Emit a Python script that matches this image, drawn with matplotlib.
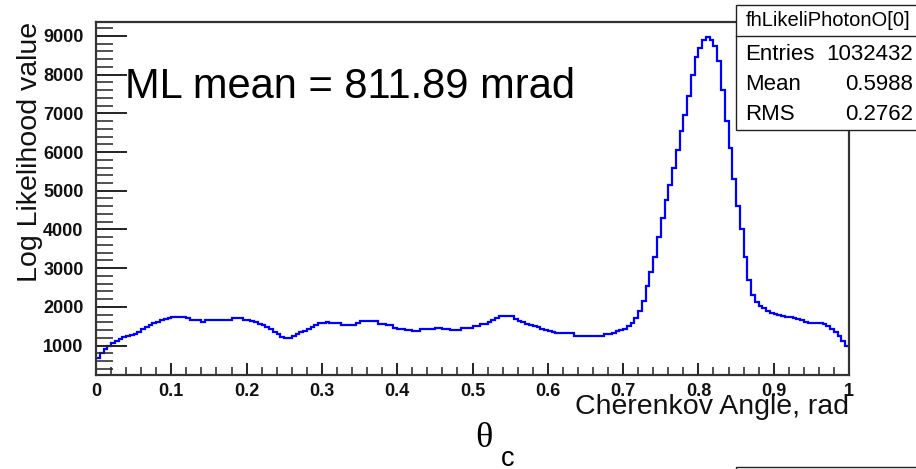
import numpy as np
import matplotlib
matplotlib.use("Agg")
import matplotlib.pyplot as plt
from matplotlib.patches import Rectangle
from matplotlib.lines import Line2D
from matplotlib.ticker import MultipleLocator

plt.rcParams['font.family'] = ['Liberation Sans', 'DejaVu Sans']

# 200 bins over [0, 1] rad
bin_edges = np.linspace(0.0, 1.0, 201)
likelihood = [
    690, 800, 900, 990, 1060, 1130, 1170, 1210, 1250, 1280,
    1310, 1350, 1420, 1480, 1540, 1580, 1610, 1650, 1690, 1720,
    1750, 1750, 1750, 1750, 1710, 1670, 1670, 1670, 1620, 1670,
    1670, 1670, 1670, 1670, 1670, 1670, 1710, 1710, 1710, 1670,
    1670, 1630, 1600, 1560, 1520, 1470, 1420, 1350, 1290, 1230,
    1200, 1200, 1250, 1290, 1340, 1380, 1430, 1480, 1540, 1590,
    1590, 1620, 1590, 1590, 1590, 1540, 1540, 1540, 1540, 1590,
    1630, 1630, 1630, 1630, 1630, 1570, 1570, 1520, 1520, 1465,
    1430, 1430, 1390, 1390, 1370, 1370, 1430, 1430, 1430, 1430,
    1460, 1460, 1430, 1430, 1415, 1415, 1415, 1460, 1460, 1460,
    1500, 1500, 1570, 1570, 1610, 1655, 1700, 1760, 1760, 1760,
    1760, 1690, 1640, 1600, 1560, 1540, 1510, 1480, 1440, 1400,
    1370, 1340, 1330, 1330, 1330, 1330, 1330, 1260, 1260, 1260,
    1260, 1260, 1260, 1260, 1260, 1300, 1300, 1330, 1370, 1400,
    1440, 1500, 1580, 1700, 1900, 2150, 2550, 2900, 3300, 3800,
    4300, 4750, 5150, 5600, 6050, 6550, 6950, 7450, 8000, 8450,
    8700, 8900, 8970, 8900, 8750, 8350, 7600, 6800, 6100, 5300,
    4600, 4000, 3300, 2700, 2300, 2120, 2030, 1960, 1900, 1850,
    1820, 1790, 1760, 1740, 1740, 1720, 1690, 1650, 1610, 1590,
    1580, 1580, 1580, 1560, 1510, 1440, 1360, 1260, 1130, 980,
]

hist_name = "fhLikeliPhotonO[0]"
stats_labels = ["Entries", "Mean", "RMS"]
stats_values = ["1032432", "0.5988", "0.2762"]
ml_mean_mrad = 811.89

W, H = 916, 469
fig = plt.figure(figsize=(W / 100, H / 100), dpi=100)
ax = fig.add_axes([96 / W, 1 - 375 / H, (849 - 96) / W, (375 - 22) / H])

ax.stairs(likelihood, bin_edges, baseline=None, color='#0000ff', lw=1.6)

ax.set_xlim(0, 1)
ax.set_ylim(240, 9360)
ax.xaxis.set_minor_locator(MultipleLocator(0.02))
ax.yaxis.set_major_locator(MultipleLocator(1000))
ax.yaxis.set_minor_locator(MultipleLocator(200))
ax.set_xticks(np.arange(0, 1.01, 0.1))
ax.set_xticklabels(["0", "0.1", "0.2", "0.3", "0.4", "0.5", "0.6", "0.7", "0.8", "0.9", "1"])

ax.tick_params(axis='x', which='major', direction='in', length=9, width=1.4,
               labelsize=13, pad=6, colors='#222222')
ax.tick_params(axis='x', which='minor', direction='in', length=6, width=1.1, colors='#222222')
ax.tick_params(axis='y', which='major', direction='in', length=22, width=1.4,
               labelsize=13, pad=9, colors='#222222')
ax.tick_params(axis='y', which='minor', direction='in', length=12, width=1.1, colors='#222222')
for lab in ax.get_xticklabels() + ax.get_yticklabels():
    lab.set_fontweight('bold')
    lab.set_color('#111111')
for s in ax.spines.values():
    s.set_color('#333333')
    s.set_linewidth(1.6)

# axis titles, ROOT style (right/top aligned)
fig.text(849 / W, 1 - 414 / H, "Cherenkov Angle, rad", ha='right', va='baseline',
         fontsize=20.5, color='#111111')
fig.text(30 / W, 1 - 152 / H, "Log Likelihood value", rotation=90,
         ha='center', va='center', fontsize=20.5, color='#111111')

fig.text(125 / W, 1 - 97.5 / H, f"ML mean = {ml_mean_mrad:.2f} mrad",
         ha='left', va='baseline', fontsize=30)

# theta_c under the axis
fig.text(475 / W, 1 - 447 / H, "\u03b8", family='Liberation Serif',
         ha='left', va='baseline', fontsize=26)
fig.text(501 / W, 1 - 466 / H, "c", ha='left', va='baseline', fontsize=19.5)

# stats box
bx0, by_top, by_title, by_bot = 736, 5, 36, 130
fig.patches.append(Rectangle((bx0 / W, 1 - by_bot / H), (W + 10 - bx0) / W, (by_bot - by_top) / H,
                             transform=fig.transFigure, facecolor='white',
                             edgecolor='#222222', lw=1.0, zorder=5))
fig.lines.append(Line2D([bx0 / W, 1.01], [1 - by_title / H] * 2, transform=fig.transFigure,
                        color='#222222', lw=1.0, zorder=6))
fig.text(828 / W, 1 - 20 / H, hist_name, ha='center', va='center', fontsize=14.5, zorder=7)
row_y = [54, 85, 115]
for lbl, val, ry in zip(stats_labels, stats_values, row_y):
    fig.text(745 / W, 1 - ry / H, lbl, ha='left', va='center', fontsize=16, zorder=7)
    fig.text(913 / W, 1 - ry / H, val, ha='right', va='center', fontsize=16, zorder=7)

# edge of the next pad at the bottom right
fig.patches.append(Rectangle((bx0 / W, -0.05), (W + 10 - bx0) / W, 0.05 + (469 - 466.5) / H,
                             transform=fig.transFigure, facecolor='white',
                             edgecolor='#222222', lw=1.0, zorder=5))

fig.savefig("out.png", dpi=100)
